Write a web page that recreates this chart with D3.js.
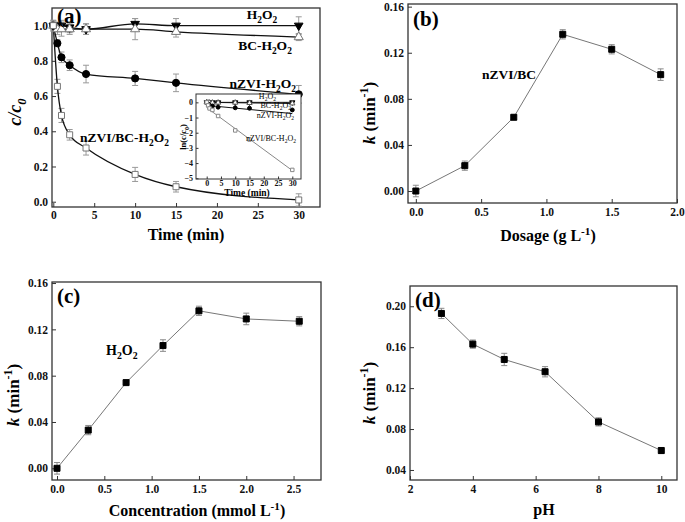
<!DOCTYPE html>
<html>
<head>
<meta charset="utf-8">
<script src="https://cdn.jsdelivr.net/npm/d3@7"></script>
<style>
  body { margin: 0; background: #fff; }
  svg { display: block; }
</style>
</head>
<body>
<div id="chart"></div>
<script>
// ---- (a) c/c0 vs time ----
let timeA = [0, 0.5, 1, 2, 4, 10, 15, 30];
let seriesNames = ["H2O2", "BC-H2O2", "nZVI-H2O2", "nZVI/BC-H2O2"];
let cH2O2 = [1.0, 1.0, 1.0, 0.99, 0.98, 1.01, 1.0, 1.0];
let eH2O2 = [0.03, 0.02, 0.03, 0.03, 0.03, 0.03, 0.04, 0.05];
let cBC = [1.0, 0.98, 0.98, 0.98, 0.98, 0.98, 0.965, 0.935];
let eBC = [0.03, 0.03, 0.04, 0.03, 0.03, 0.06, 0.03, 0.02];
let cNZVI = [1.0, 0.9, 0.82, 0.775, 0.725, 0.70, 0.675, 0.61];
let eNZVI = [0.02, 0.02, 0.03, 0.03, 0.05, 0.04, 0.05, 0.05];
let cNZVIBC = [1.0, 0.655, 0.49, 0.38, 0.305, 0.155, 0.085, 0.01];
let eNZVIBC = [0.02, 0.04, 0.04, 0.03, 0.04, 0.04, 0.03, 0.035];

// inset: ln(c/c0) and linear fits
let lnH2O2 = [0, 0, 0, 0, 0, 0, 0, 0];
let lnBC = [0, -0.02, -0.02, -0.02, -0.02, -0.02, -0.04, -0.07];
let lnNZVI = [0, -0.1, -0.2, -0.25, -0.32, -0.36, -0.39, -0.5];
let lnNZVIBC = [0, -0.2, -0.4, -0.5, -0.9, -1.85, -2.45, -4.45];
let fitIntercept = [0, 0, -0.2, -0.35];
let fitSlope = [0, -0.0025, -0.018, -0.138];

// ---- (b) k vs dosage ----
let dosage = [0, 0.375, 0.75, 1.125, 1.5, 1.875];
let kDosage = [0.000, 0.022, 0.064, 0.136, 0.123, 0.101];
let eDosage = [0.005, 0.004, 0.002, 0.004, 0.004, 0.005];

// ---- (c) k vs H2O2 concentration ----
let conc = [0, 0.33, 0.73, 1.12, 1.5, 2.0, 2.56];
let kConc = [0.000, 0.033, 0.074, 0.106, 0.136, 0.129, 0.127];
let eConc = [0.005, 0.004, 0.002, 0.005, 0.004, 0.005, 0.004];

// ---- (d) k vs pH ----
let pH = [3, 4, 5, 6.3, 8, 10];
let kPH = [0.193, 0.163, 0.148, 0.136, 0.087, 0.059];
let ePH = [0.005, 0.004, 0.006, 0.005, 0.004, 0.003];

let FONT = "'Liberation Serif','Times New Roman',serif";

let svg = d3.select("#chart").append("svg")
    .attr("width", 685).attr("height", 522)
    .attr("font-family", FONT);

// text with sub/superscripts: parts = [[text, "sub"|"sup"|"", italic]]
let rich = function(g, x, y, parts, size, anchor, rot, weight) {
    let t = g.append("text")
        .attr("text-anchor", anchor || "start")
        .attr("font-weight", weight || "bold")
        .attr("font-size", size)
        .attr("transform", "translate(" + x + "," + y + ")" + (rot ? " rotate(" + rot + ")" : ""));
    let shift = 0;
    parts.forEach(function(p) {
        let target = p[1] === "sub" ? size * 0.3 : p[1] === "sup" ? -size * 0.4 : 0;
        t.append("tspan")
            .attr("dy", target - shift)
            .attr("font-size", p[1] ? size * 0.7 : size)
            .attr("font-style", p[2] ? "italic" : null)
            .text(p[0]);
        shift = target;
    });
    return t;
};
let chem = function(name) {
    // "nZVI/BC-H2O2" -> parts with subscripts on digits
    let parts = [];
    name.split(/(\d)/).forEach(function(s) {
        if (s === "") return;
        parts.push([s, /\d/.test(s) ? "sub" : "", false]);
    });
    return parts;
};

let panel = function(o) {
    let x = d3.scaleLinear().domain(o.xd).range([o.left, o.right]);
    let y = d3.scaleLinear().domain(o.yd).range([o.bottom, o.top]);
    let g = svg.append("g");
    if (o.bg) {
        g.append("rect").attr("x", o.left).attr("y", o.top)
            .attr("width", o.right - o.left).attr("height", o.bottom - o.top)
            .attr("fill", "#fff");
    }
    let ts = -(o.tick || 4);   // ticks point inward
    let ax = g.append("g").attr("transform", "translate(0," + o.bottom + ")")
        .call(d3.axisBottom(x).tickValues(o.xt).tickFormat(d3.format(o.xf))
            .tickSize(ts).tickPadding(o.xpad));
    let ay = g.append("g").attr("transform", "translate(" + o.left + ",0)")
        .call(d3.axisLeft(y).tickValues(o.yt).tickFormat(d3.format(o.yf))
            .tickSize(ts).tickPadding(o.ypad));
    [ax, ay].forEach(function(a) {
        a.select(".domain").remove();
        a.selectAll("line").attr("stroke", "#333").attr("stroke-width", 1);
        a.selectAll("text").attr("font-family", FONT).attr("font-weight", "bold")
            .attr("font-size", o.fs || 11.5).attr("fill", "#111");
    });
    g.append("rect").attr("x", o.left).attr("y", o.top)
        .attr("width", o.right - o.left).attr("height", o.bottom - o.top)
        .attr("fill", "none").attr("stroke", "#333").attr("stroke-width", o.sw || 1.3);
    return {g: g, x: x, y: y};
};

let errBars = function(p, xs, ys, es, color) {
    let eb = p.g.append("g").attr("stroke", color || "#8a8a8a").attr("stroke-width", 1);
    xs.forEach(function(xv, i) {
        let cx = p.x(xv), y1 = p.y(ys[i] - es[i]), y2 = p.y(ys[i] + es[i]);
        eb.append("line").attr("x1", cx).attr("x2", cx).attr("y1", y1).attr("y2", y2);
        eb.append("line").attr("x1", cx - 3).attr("x2", cx + 3).attr("y1", y1).attr("y2", y1);
        eb.append("line").attr("x1", cx - 3).attr("x2", cx + 3).attr("y1", y2).attr("y2", y2);
    });
};

let markers = function(p, xs, ys, type, size, fill, stroke, rot) {
    p.g.append("g").selectAll("path").data(xs).enter().append("path")
        .attr("d", d3.symbol().type(type).size(size))
        .attr("transform", function(d, i) {
            return "translate(" + p.x(d) + "," + p.y(ys[i]) + ")" + (rot ? " rotate(" + rot + ")" : "");
        })
        .attr("fill", fill).attr("stroke", stroke).attr("stroke-width", 1);
};

let linePath = function(p, xs, ys, color, width, curve) {
    let line = d3.line().x(function(d) { return p.x(d); })
        .y(function(d, i) { return p.y(ys[i]); })
        .curve(curve || d3.curveLinear);
    p.g.append("path").datum(xs).attr("d", line)
        .attr("fill", "none").attr("stroke", color).attr("stroke-width", width);
};

// ================= (a) =================
let pa = panel({left: 52, right: 320, top: 8, bottom: 207,
    xd: [-0.16, 32.6], yd: [-0.03, 1.1],
    xt: d3.range(0, 31, 5), yt: [0, 0.2, 0.4, 0.6, 0.8, 1.0],
    xf: "d", yf: ".1f", xpad: 4, ypad: 4});
let seriesA = [
    {c: cH2O2, e: eH2O2, type: d3.symbolTriangle, fill: "#000", stroke: "#000", rot: 180, size: 32},
    {c: cBC, e: eBC, type: d3.symbolTriangle, fill: "#fff", stroke: "#777", rot: 0, size: 36},
    {c: cNZVI, e: eNZVI, type: d3.symbolCircle, fill: "#000", stroke: "#000", rot: 0, size: 40},
    {c: cNZVIBC, e: eNZVIBC, type: d3.symbolSquare, fill: "#fff", stroke: "#777", rot: 0, size: 36}
];
seriesA.forEach(function(s) { errBars(pa, timeA, s.c, s.e, "#999"); });
seriesA.forEach(function(s) { linePath(pa, timeA, s.c, "#111", 1.3, d3.curveMonotoneX); });
seriesA.forEach(function(s) { markers(pa, timeA, s.c, s.type, s.size, s.fill, s.stroke, s.rot); });

rich(svg, 262, 19, chem(seriesNames[0]), 13.5, "middle");
rich(svg, 265, 50, chem(seriesNames[1]), 13.5, "middle");
rich(svg, 296, 88, chem(seriesNames[2]), 13.5, "end");
rich(svg, 80, 142, chem(seriesNames[3]), 13.5, "start");
rich(svg, 57, 23, [["(a)", "", false]], 21, "start");
rich(svg, 186, 240, [["Time (min)", "", false]], 16, "middle");
rich(svg, 21, 112, [["c/c", "", true], ["0", "sub", true]], 18, "middle", -90);

// inset
let pi = panel({left: 196, right: 301, top: 94, bottom: 179,
    xd: [-3.75, 33.05], yd: [-5.05, 0.55],
    xt: d3.range(0, 31, 5), yt: [0, -1, -2, -3, -4, -5],
    xf: "d", yf: "d", tick: 2.5, xpad: 1, ypad: 3, fs: 8, sw: 1, bg: true});
let insetSeries = [
    {v: lnH2O2, type: d3.symbolTriangle, fill: "#000", stroke: "#000", rot: 180, color: "#111"},
    {v: lnBC, type: d3.symbolTriangle, fill: "#fff", stroke: "#555", rot: 0, color: "#111"},
    {v: lnNZVI, type: d3.symbolCircle, fill: "#000", stroke: "#000", rot: 0, color: "#111"},
    {v: lnNZVIBC, type: d3.symbolSquare, fill: "#fff", stroke: "#888", rot: 0, color: "#888"}
];
insetSeries.forEach(function(s, i) {
    let ends = [0, 30];
    let fit = ends.map(function(t) { return fitIntercept[i] + fitSlope[i] * t; });
    linePath(pi, ends, fit, s.color, 1);
});
insetSeries.forEach(function(s) { markers(pi, timeA, s.v, s.type, 12, s.fill, s.stroke, s.rot); });
rich(svg, 276, 99, chem(seriesNames[0]), 8, "end", 0, "normal");
rich(svg, 291, 108, chem(seriesNames[1]), 8, "end", 0, "normal");
rich(svg, 294, 118, chem(seriesNames[2]), 8, "end", 0, "normal");
rich(svg, 296, 141, chem(seriesNames[3]), 8, "end", 0, "normal");
rich(svg, 247, 196, [["Time (min)", "", false]], 9.5, "middle");
rich(svg, 186, 137, [["ln(c/c", "", false], ["0", "sub", false], [")", "", false]], 8.5, "middle", -90);

// ================= (b) =================
let pb = panel({left: 408, right: 677, top: 4, bottom: 203,
    xd: [-0.06, 2.0], yd: [-0.0104, 0.1623],
    xt: [0, 0.5, 1.0, 1.5, 2.0], yt: [0, 0.04, 0.08, 0.12, 0.16],
    xf: ".1f", yf: ".2f", xpad: 5, ypad: 4});
errBars(pb, dosage, kDosage, eDosage);
linePath(pb, dosage, kDosage, "#777", 1);
markers(pb, dosage, kDosage, d3.symbolSquare, 36, "#000", "#000", 0);
rich(svg, 413, 26, [["(b)", "", false]], 21, "start");
rich(svg, 482, 79, [["nZVI/BC", "", false]], 13.5, "start");
rich(svg, 548, 241, [["Dosage (g L", "", false], ["-1", "sup", false], [")", "", false]], 16, "middle");
rich(svg, 375, 113, [["k", "", true], [" (min", "", false], ["-1", "sup", false], [")", "", false]], 17, "middle", -90);

// ================= (c) =================
let pc = panel({left: 52, right: 321, top: 282, bottom: 480,
    xd: [-0.053, 2.79], yd: [-0.0101, 0.1609],
    xt: [0, 0.5, 1.0, 1.5, 2.0, 2.5], yt: [0, 0.04, 0.08, 0.12, 0.16],
    xf: ".1f", yf: ".2f", xpad: 5, ypad: 4});
errBars(pc, conc, kConc, eConc);
linePath(pc, conc, kConc, "#777", 1);
markers(pc, conc, kConc, d3.symbolSquare, 36, "#000", "#000", 0);
rich(svg, 57, 303, [["(c)", "", false]], 21, "start");
rich(svg, 106, 355, chem("H2O2"), 14, "start");
rich(svg, 197, 516, [["Concentration (mmol L", "", false], ["-1", "sup", false], [")", "", false]], 16, "middle");
rich(svg, 19, 395, [["k", "", true], [" (min", "", false], ["-1", "sup", false], [")", "", false]], 17, "middle", -90);

// ================= (d) =================
let pd = panel({left: 410, right: 677, top: 286, bottom: 480,
    xd: [2, 10.5], yd: [0.0302, 0.2198],
    xt: [2, 4, 6, 8, 10], yt: [0.04, 0.08, 0.12, 0.16, 0.20],
    xf: "d", yf: ".2f", xpad: 5, ypad: 4});
errBars(pd, pH, kPH, ePH);
linePath(pd, pH, kPH, "#777", 1);
markers(pd, pH, kPH, d3.symbolSquare, 36, "#000", "#000", 0);
rich(svg, 415, 307, [["(d)", "", false]], 21, "start");
rich(svg, 544, 515, [["pH", "", false]], 16, "middle");
rich(svg, 375, 393, [["k", "", true], [" (min", "", false], ["-1", "sup", false], [")", "", false]], 17, "middle", -90);
</script>
</body>
</html>
